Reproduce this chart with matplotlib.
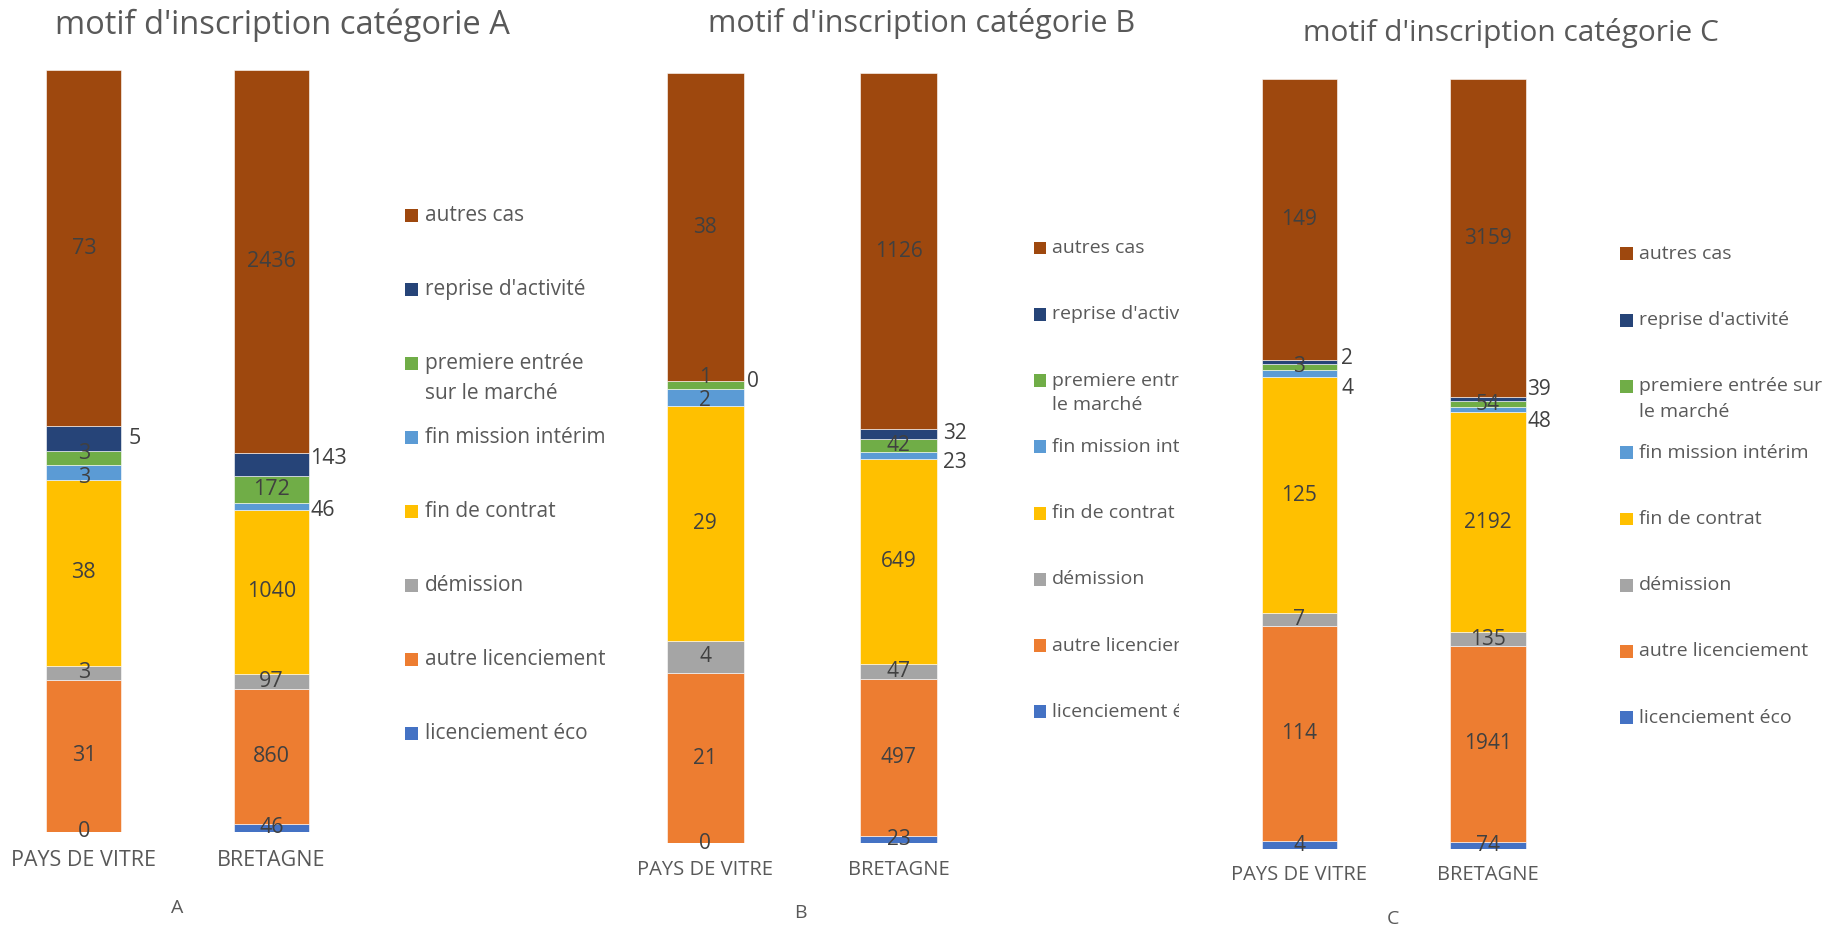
import numpy as np
import matplotlib
matplotlib.use("Agg")
import matplotlib.pyplot as plt
from matplotlib.patches import Rectangle
from matplotlib.transforms import Bbox, TransformedBbox

# series, bottom to top of each bar
series = ["licenciement éco", "autre licenciement", "démission", "fin de contrat",
          "fin mission intérim", "premiere entrée sur le marché",
          "reprise d'activité", "autres cas"]
colors = ["#4472C4", "#ED7D31", "#A5A5A5", "#FFC000",
          "#5B9BD5", "#70AD47", "#264478", "#9E480E"]
categories = ["PAYS DE VITRE", "BRETAGNE"]

cat_a_vitre = [0, 31, 3, 38, 3, 3, 5, 73]
cat_a_bretagne = [46, 860, 97, 1040, 46, 172, 143, 2436]
cat_b_vitre = [0, 21, 4, 29, 2, 1, 0, 38]
cat_b_bretagne = [23, 497, 47, 649, 23, 42, 32, 1126]
cat_c_vitre = [4, 114, 7, 125, 4, 3, 2, 149]
cat_c_bretagne = [74, 1941, 135, 2192, 48, 54, 39, 3159]

titles = ["motif d'inscription catégorie A", "motif d'inscription catégorie B",
          "motif d'inscription catégorie C"]
letters = ["A", "B", "C"]

# labels placed right of the bar: (bar, series index) -> offset in points
outside = [
    {(0, 6): (5, 0), (1, 6): (1, 4), (1, 4): (1, -3)},
    {(0, 6): (2, 0), (1, 6): (4, 0), (1, 4): (4, -5)},
    {(0, 6): (3, 2.5), (0, 4): (3, -11), (1, 6): (1, 7), (1, 4): (1, -9)},
]
# small vertical nudges of inside labels (points)
nudge = [{(0, 5): 3.5, (0, 4): -3.5}, {(0, 5): 5.5, (0, 4): -2.5}, {}]

TXT = "#595959"
LBL = "#404040"
W, H = 1568.0, 796.0   # layout measured on a scaled copy


def fx(x):
    return x / W


def fy(y):
    return 1 - y / H


panels = [
    dict(data=[cat_a_vitre, cat_a_bretagne], ax=(7.6, 60, 290, 654), pad=13.5,
         font=["Open Sans"], fs=15.5, tk=15.5, title=(243, 22, 23.5), letter=(152, 780),
         leg=dict(mx=348, tx=365, y0=185, step=63.5, lh=26, clip=None, fs=15,
                  pm="premiere entrée\nsur le marché")),
    dict(data=[cat_b_vitre, cat_b_bretagne], ax=(539.6, 63, 298.8, 661), pad=12,
         font=["Open Sans"], fs=15, tk=14.5, title=(792, 20, 22), letter=(688, 784),
         leg=dict(mx=888, tx=904, y0=213, step=56.9, lh=21, clip=1013, fs=14,
                  pm="premiere entrée sur\nle marché")),
    dict(data=[cat_c_vitre, cat_c_bretagne], ax=(1051.7, 68, 291.6, 661), pad=11.5,
         font=["Open Sans"], fs=15, tk=14.5, title=(1298, 28, 21.5), letter=(1197, 789),
         leg=dict(mx=1392, tx=1408, y0=218, step=56.9, lh=22, clip=None, fs=14,
                  pm="premiere entrée sur\nle marché")),
]

fig = plt.figure(figsize=(18.25, 9.27), dpi=100)
width = 0.4

for p, pan in enumerate(panels):
    x0, ytop, aw, ah = pan["ax"]
    ax = fig.add_axes([fx(x0), fy(ytop + ah), fx(aw), ah / H])
    fam = pan["font"]
    for b, vals in enumerate(pan["data"]):
        vals = np.array(vals, dtype=float)
        shares = vals / vals.sum()
        bottoms = np.concatenate([[0], np.cumsum(shares)[:-1]])
        ax.bar([b] * len(vals), shares, width, bottom=bottoms, color=colors,
               edgecolor="white", linewidth=0.4)
        for i, v in enumerate(vals):
            yc = bottoms[i] + shares[i] / 2
            if (b, i) in outside[p]:
                dx, dy = outside[p][(b, i)]
                ax.annotate(str(int(v)), xy=(b + width / 2, yc), xytext=(dx, dy),
                            textcoords="offset points", ha="left", va="center",
                            color=LBL, fontsize=pan["fs"], family=fam,
                            annotation_clip=False)
            else:
                dy = nudge[p].get((b, i), 0)
                ax.annotate(str(int(v)), xy=(b, yc), xytext=(0, dy),
                            textcoords="offset points", ha="center", va="center",
                            color=LBL, fontsize=pan["fs"], family=fam,
                            annotation_clip=False)
    ax.set_xlim(-0.4, 1.4)
    ax.set_ylim(0, 1)
    ax.set_xticks([0, 1])
    ax.set_xticklabels(categories, color=TXT, fontsize=pan["tk"], family=fam)
    ax.tick_params(axis="x", length=0, pad=pan["pad"])
    ax.set_yticks([])
    for s in ax.spines.values():
        s.set_visible(False)

    tx, ty, tfs = pan["title"]
    fig.text(fx(tx), fy(ty), titles[p], ha="center", va="center", color=TXT,
             fontsize=tfs, family=fam)
    lx, ly = pan["letter"]
    fig.text(fx(lx), fy(ly), letters[p], ha="center", va="center", color=TXT,
             fontsize=14, family=fam)

    # legend, top to bottom
    lg = pan["leg"]
    clipbox = None
    if lg["clip"] is not None:
        clipbox = TransformedBbox(Bbox([[0, 0], [fx(lg["clip"]), 1]]), fig.transFigure)
    for k, i in enumerate(range(len(series) - 1, -1, -1)):
        yc = lg["y0"] + k * lg["step"]
        fig.add_artist(Rectangle((fx(lg["mx"]), fy(yc + 5.5)), fx(11), 11 / H,
                                 transform=fig.transFigure, color=colors[i], lw=0))
        name = lg["pm"] if i == 5 else series[i]
        for n, line in enumerate(name.split("\n")):
            t = fig.text(fx(lg["tx"]), fy(yc + n * lg["lh"]), line, ha="left",
                         va="center", color=TXT, fontsize=lg["fs"], family=fam)
            if clipbox is not None:
                t.set_clip_on(True)
                t.set_clip_box(clipbox)

fig.savefig("out.png", dpi=100)
